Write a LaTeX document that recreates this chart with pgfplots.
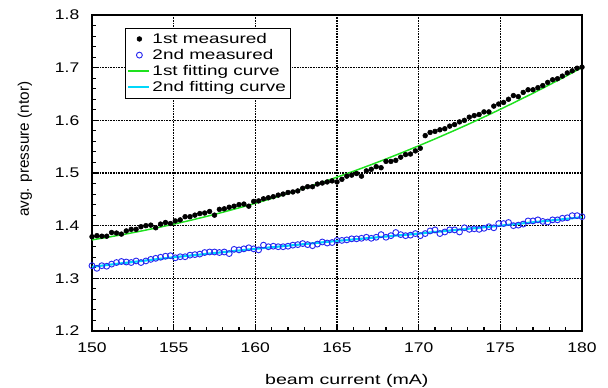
\documentclass[border=0pt]{standalone}
\usepackage{fontspec}
\setmainfont{Liberation Sans}
\newfontfamily\tickfont{Liberation Sans}[FakeStretch=1.25]
\newfontfamily\legfont{Liberation Sans}[FakeStretch=1.35]
\newfontfamily\xlabfont{Liberation Sans}[FakeStretch=1.4]
\usepackage{pgfplots}
\pgfplotsset{compat=1.18}
\definecolor{fitgreen}{RGB}{30,225,30}
\definecolor{fitcyan}{RGB}{0,215,250}
\definecolor{ptblue}{RGB}{40,40,240}
\pgfplotstableread{
x y
150.0 1.379
150.3 1.381
150.6 1.380
150.9 1.380
151.2 1.387
151.5 1.386
151.8 1.384
152.1 1.390
152.4 1.393
152.7 1.393
153.0 1.398
153.3 1.400
153.6 1.401
153.9 1.396
154.2 1.403
154.5 1.406
154.8 1.404
155.1 1.409
155.4 1.411
155.7 1.417
156.0 1.417
156.3 1.420
156.6 1.423
156.9 1.424
157.2 1.427
157.5 1.420
157.8 1.431
158.1 1.432
158.4 1.435
158.7 1.437
159.0 1.440
159.3 1.441
159.6 1.437
159.9 1.446
160.2 1.447
160.5 1.451
160.8 1.453
161.1 1.455
161.4 1.458
161.7 1.460
162.0 1.463
162.3 1.464
162.6 1.466
162.9 1.471
163.2 1.474
163.5 1.474
163.8 1.479
164.1 1.481
164.4 1.483
164.7 1.485
165.0 1.483
165.3 1.488
165.6 1.494
165.9 1.496
166.2 1.499
166.5 1.494
166.8 1.504
167.1 1.507
167.4 1.512
167.7 1.510
168.0 1.522
168.3 1.522
168.6 1.524
168.9 1.530
169.2 1.535
169.5 1.536
169.8 1.542
170.1 1.547
170.4 1.571
170.7 1.577
171.0 1.579
171.3 1.582
171.6 1.584
171.9 1.589
172.2 1.592
172.5 1.597
172.8 1.600
173.1 1.606
173.4 1.609
173.7 1.611
174.0 1.616
174.3 1.616
174.6 1.627
174.9 1.631
175.2 1.634
175.5 1.640
175.8 1.647
176.1 1.645
176.4 1.653
176.7 1.658
177.0 1.658
177.3 1.662
177.6 1.666
177.9 1.672
178.2 1.677
178.5 1.679
178.8 1.684
179.1 1.690
179.4 1.694
179.7 1.699
180.0 1.701
}\firstmeas
\pgfplotstableread{
x y
150.0 1.324
150.3 1.319
150.6 1.324
150.9 1.323
151.2 1.327
151.5 1.330
151.8 1.332
152.1 1.331
152.4 1.330
152.7 1.333
153.0 1.330
153.3 1.333
153.6 1.336
153.9 1.338
154.2 1.340
154.5 1.342
154.8 1.343
155.1 1.339
155.4 1.341
155.7 1.341
156.0 1.344
156.3 1.345
156.6 1.346
156.9 1.349
157.2 1.350
157.5 1.350
157.8 1.349
158.1 1.350
158.4 1.347
158.7 1.355
159.0 1.354
159.3 1.356
159.6 1.358
159.9 1.356
160.2 1.354
160.5 1.363
160.8 1.360
161.1 1.361
161.4 1.360
161.7 1.360
162.0 1.361
162.3 1.363
162.6 1.364
162.9 1.366
163.2 1.364
163.5 1.362
163.8 1.365
164.1 1.369
164.4 1.367
164.7 1.368
165.0 1.372
165.3 1.372
165.6 1.373
165.9 1.375
166.2 1.375
166.5 1.376
166.8 1.378
167.1 1.376
167.4 1.378
167.7 1.383
168.0 1.378
168.3 1.381
168.6 1.387
168.9 1.383
169.2 1.381
169.5 1.382
169.8 1.385
170.1 1.381
170.4 1.385
170.7 1.390
171.0 1.392
171.3 1.385
171.6 1.388
171.9 1.392
172.2 1.392
172.5 1.388
172.8 1.396
173.1 1.393
173.4 1.394
173.7 1.393
174.0 1.395
174.3 1.398
174.6 1.396
174.9 1.404
175.2 1.404
175.5 1.406
175.8 1.400
176.1 1.401
176.4 1.403
176.7 1.409
177.0 1.409
177.3 1.411
177.6 1.408
177.9 1.407
178.2 1.411
178.5 1.411
178.8 1.414
179.1 1.415
179.4 1.419
179.7 1.419
180.0 1.417
}\secondmeas
\pgfplotstableread{
x y
150 1.3730
151 1.3782
152 1.3837
153 1.3897
154 1.3961
155 1.4028
156 1.4099
157 1.4175
158 1.4254
159 1.4338
160 1.4425
161 1.4516
162 1.4612
163 1.4711
164 1.4814
165 1.4921
166 1.5032
167 1.5147
168 1.5266
169 1.5389
170 1.5516
171 1.5647
172 1.5782
173 1.5920
174 1.6063
175 1.6210
176 1.6361
177 1.6515
178 1.6674
179 1.6836
180 1.7003
}\firstfit
\pgfplotstableread{
x y
150 1.322
155 1.340
160 1.356
165 1.371
170 1.385
175 1.400
180 1.416
}\secondfit
\def\u{0.75pt}
\begin{document}
\begin{tikzpicture}
\begin{axis}[
  scale only axis, width=367.5pt, height=237pt,
  xmin=150, xmax=180, ymin=1.2, ymax=1.8,
  xtick={150,155,160,165,170,175,180},
  ytick={1.2,1.3,1.4,1.5,1.6,1.7,1.8},
  xticklabels={150,155,160,165,170,175,180},
  yticklabels={1.2,1.3,1.4,1.5,1.6,1.7,1.8},
  /pgf/number format/assume math mode=true,
  minor x tick num=4, minor y tick num=4,
  tick pos=left, tick align=inside,
  major tick length=4.5pt, minor tick length=3pt,
  every tick/.style={black, line width=0.8pt},
  grid=major,
  major grid style={black, line width=0.8pt, dash pattern=on 0.6pt off 0.6pt},
  axis line style={line width=1pt},
  ticklabel style={font=\tickfont\fontsize{10.5}{12}\selectfont},
  xticklabel style={anchor=base, yshift=-16.5pt},
  yticklabel style={anchor=east, xshift=-6pt},
  xlabel={beam current (mA)},
  xlabel style={font=\xlabfont\fontsize{10.5}{12}\selectfont, at={(axis description cs:0.52,0)}, anchor=base, yshift=-40pt},
  ylabel={avg. pressure (ntor)},
  ylabel style={font=\fontsize{11.5}{13}\selectfont, at={(axis description cs:-0.137,0.575)}, anchor=center},
  legend style={at={(0.067,0.959)}, anchor=north west, draw=black,
    font=\legfont\fontsize{10.5}{13.5}\selectfont, inner sep=1.5pt, row sep=-1pt,
    cells={anchor=west}},
  legend cell align=left,
]
\addplot[only marks, mark=*, mark size=1.8pt, black] table {\firstmeas};
\addlegendentry{1st measured}
\addplot[only marks, mark=o, mark size=2.2pt, ptblue, mark options={line width=0.7pt}] table {\secondmeas};
\addlegendentry{2nd measured}
\addplot[fitgreen, line width=1.1pt, legend image code/.code={\draw[fitgreen, line width=1.2pt] (0cm,0cm) -- (0.55cm,0cm);}] table {\firstfit};
\addlegendentry{1st fitting curve}
\addplot[fitcyan, line width=1.6pt, legend image code/.code={\draw[fitcyan, line width=1.4pt] (0cm,0cm) -- (0.55cm,0cm);}] table {\secondfit};
\addlegendentry{2nd fitting curve}
\end{axis}
\pgfresetboundingbox
\path[use as bounding box] ([shift={(-92*\u,-57*\u)}]current axis.south west) rectangle ++(608*\u,388*\u);
\end{tikzpicture}
\end{document}
